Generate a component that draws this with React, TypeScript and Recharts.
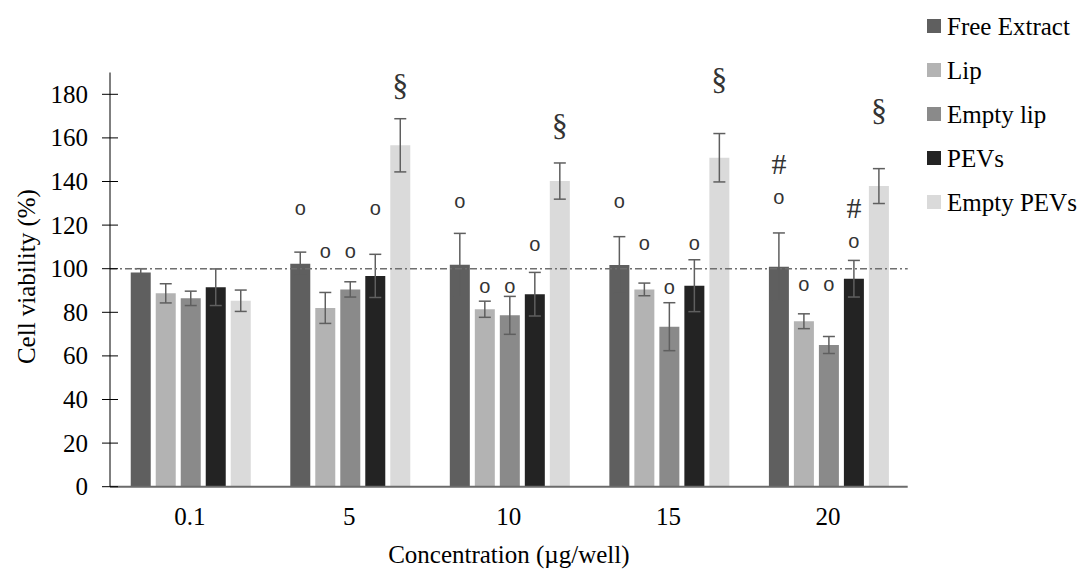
import React from 'react';
import {
  BarChart,
  Bar,
  XAxis,
  YAxis,
  ErrorBar,
  LabelList,
  Legend,
  ReferenceLine,
} from 'recharts';

// values (mean ± SD, % of control)
const categories = ['0.1', '5', '10', '15', '20'];
const seriesNames = ['Free Extract', 'Lip', 'Empty lip', 'PEVs', 'Empty PEVs'];

const freeExtract = [98.3, 102.3, 101.8, 101.7, 100.9];
const freeExtractSd = [1.7, 5.3, 14.4, 13, 15.5];
const lip = [88.7, 82, 81.4, 90.5, 75.9];
const lipSd = [4.4, 7.1, 3.7, 2.9, 3.4];
const emptyLip = [86.4, 90.5, 78.6, 73.4, 65];
const emptyLipSd = [3.3, 3.5, 8.7, 11, 3.9];
const pevs = [91.5, 96.7, 88.3, 92.2, 95.4];
const pevsSd = [8.4, 9.9, 10, 11.9, 8.4];
const emptyPevs = [85.3, 156.6, 140.2, 150.9, 137.9];
const emptyPevsSd = [4.9, 12.2, 8.3, 11.1, 8];

// significance symbols and the value level where each one sits
const freeExtractMarks = ['', 'o', 'o', 'o', '#o'];
const freeExtractMarkAt = [0, 127, 130, 130, 132];
const lipMarks = ['', 'o', 'o', 'o', 'o'];
const lipMarkAt = [0, 107, 91, 110.7, 92];
const emptyLipMarks = ['', 'o', 'o', 'o', 'o'];
const emptyLipMarkAt = [0, 107, 91, 90.8, 92];
const pevsMarks = ['', 'o', 'o', 'o', '#o'];
const pevsMarkAt = [0, 127, 110.4, 110.7, 112];
const emptyPevsMarks = ['', '§', '§', '§', '§'];
const emptyPevsMarkAt = [0, 183, 164.4, 185.8, 171.3];

const yTicks = [0, 20, 40, 60, 80, 100, 120, 140, 160, 180];

const data = categories.map((c, i) => ({
  name: c,
  freeExtract: freeExtract[i],
  freeExtractSd: freeExtractSd[i],
  freeExtractMark: freeExtractMarks[i],
  lip: lip[i],
  lipSd: lipSd[i],
  lipMark: lipMarks[i],
  emptyLip: emptyLip[i],
  emptyLipSd: emptyLipSd[i],
  emptyLipMark: emptyLipMarks[i],
  pevs: pevs[i],
  pevsSd: pevsSd[i],
  pevsMark: pevsMarks[i],
  emptyPevs: emptyPevs[i],
  emptyPevsSd: emptyPevsSd[i],
  emptyPevsMark: emptyPevsMarks[i],
}));

const SERIF = "'Liberation Serif', Tinos, 'Times New Roman', 'DejaVu Serif', serif";
const SANS = "'Liberation Sans', Arial, sans-serif";
const ERR = '#5f5f5f';

const markContent = (values: number[], markAt: number[]) => (props: any) => {
  const { index, value } = props;
  if (!value) return null;
  const vb = props.viewBox ?? props;
  const h = vb.height;
  const base = vb.y + h;
  const cx = vb.x + vb.width / 2;
  const cy = base - (markAt[index] * h) / values[index];
  const chars = String(value).split('');
  return (
    <g>
      {chars.map((ch, i) => {
        const level = chars.length - 1 - i;
        const yy = cy - level * 35;
        if (ch === 'o') {
          return (
            <text key={i} x={cx} y={yy + 5} textAnchor="middle" style={{ fontFamily: SANS }} fontSize={20} fill="#333">
              o
            </text>
          );
        }
        const big = ch === '§';
        return (
          <text key={i} x={cx} y={yy + (big ? 8 : 10)} textAnchor="middle" style={{ fontFamily: SERIF }} fontSize={big ? 32 : 30} fill="#333">
            {ch}
          </text>
        );
      })}
    </g>
  );
};

const YTick = (props: any) => {
  const { x, y, payload } = props;
  return (
    <g>
      <line x1={x + 14} x2={x + 30} y1={y} y2={y} stroke="#000" strokeWidth={1} />
      <text x={x} y={y + 8.5} textAnchor="end" style={{ fontFamily: SERIF }} fontSize={25} fill="#000">
        {payload.value}
      </text>
    </g>
  );
};

const LegendContent = (props: any) => {
  const items = [...(props.payload || [])].sort(
    (a: any, b: any) => seriesNames.indexOf(a.value) - seriesNames.indexOf(b.value)
  );
  return (
    <div style={{ fontFamily: SERIF, fontSize: 25, color: '#000', lineHeight: 1 }}>
      {items.map((entry: any) => (
        <div key={entry.value} style={{ display: 'flex', alignItems: 'center', height: 44 }}>
          <span style={{ width: 14, height: 14, background: entry.color, marginRight: 6, display: 'inline-block', flex: 'none' }} />
          <span style={{ whiteSpace: 'nowrap' }}>{entry.value}</span>
        </div>
      ))}
    </div>
  );
};

export default function App() {
  return (
    <div style={{ position: 'absolute', left: 0, top: 0, width: 1089, height: 570, background: '#fff', fontFamily: SERIF }}>
      <BarChart
        width={1089}
        height={570}
        data={data}
        margin={{ top: 72.5, right: 181.3, bottom: 3.3, left: 40 }}
        barCategoryGap="13%"
        barGap={5}
      >
        <XAxis
          dataKey="name"
          height={80}
          tickLine={false}
          tickSize={0}
          tickMargin={21}
          axisLine={{ stroke: '#6b6b6b', strokeWidth: 2 }}
          tick={{ fill: '#000', fontSize: 25, style: { fontFamily: SERIF } }}
          label={{
            content: (p: any) => {
              const vb = p.viewBox;
              return (
                <text x={vb.x + vb.width / 2} y={vb.y + 76} textAnchor="middle" style={{ fontFamily: SERIF }} fontSize={25} fill="#000">
                  Concentration (µg/well)
                </text>
              );
            },
          }}
        />
        <YAxis
          width={70}
          domain={[0, 190]}
          ticks={yTicks}
          interval={0}
          tickLine={false}
          tickSize={8}
          tickMargin={14}
          axisLine={{ stroke: '#000', strokeWidth: 1 }}
          tick={<YTick />}
          label={{
            content: (p: any) => {
              const vb = p.viewBox;
              const cx = vb.x - 5;
              const cy = vb.y + vb.height / 2 - 3;
              return (
                <text x={cx} y={cy} transform={`rotate(-90, ${cx}, ${cy})`} textAnchor="middle" style={{ fontFamily: SERIF }} fontSize={25} fill="#000">
                  Cell viability (%)
                </text>
              );
            },
          }}
        />
        <Legend
          layout="vertical"
          align="center"
          verticalAlign="middle"
          content={<LegendContent />}
          wrapperStyle={{ left: 927, top: 4, width: 162 }}
        />
        <Bar dataKey="freeExtract" name="Free Extract" fill="#5f5f5f" isAnimationActive={false}>
          <ErrorBar dataKey="freeExtractSd" width={6} stroke={ERR} strokeWidth={1.5} />
          <LabelList dataKey="freeExtractMark" content={markContent(freeExtract, freeExtractMarkAt)} />
        </Bar>
        <Bar dataKey="lip" name="Lip" fill="#b3b3b3" isAnimationActive={false}>
          <ErrorBar dataKey="lipSd" width={6} stroke={ERR} strokeWidth={1.5} />
          <LabelList dataKey="lipMark" content={markContent(lip, lipMarkAt)} />
        </Bar>
        <Bar dataKey="emptyLip" name="Empty lip" fill="#8a8a8a" isAnimationActive={false}>
          <ErrorBar dataKey="emptyLipSd" width={6} stroke={ERR} strokeWidth={1.5} />
          <LabelList dataKey="emptyLipMark" content={markContent(emptyLip, emptyLipMarkAt)} />
        </Bar>
        <Bar dataKey="pevs" name="PEVs" fill="#232323" isAnimationActive={false}>
          <ErrorBar dataKey="pevsSd" width={6} stroke={ERR} strokeWidth={1.5} />
          <LabelList dataKey="pevsMark" content={markContent(pevs, pevsMarkAt)} />
        </Bar>
        <Bar dataKey="emptyPevs" name="Empty PEVs" fill="#dadada" isAnimationActive={false}>
          <ErrorBar dataKey="emptyPevsSd" width={6} stroke={ERR} strokeWidth={1.5} />
          <LabelList dataKey="emptyPevsMark" content={markContent(emptyPevs, emptyPevsMarkAt)} />
        </Bar>
        <ReferenceLine y={100} stroke="#6f6f6f" strokeWidth={1.5} strokeDasharray="7 3 2 3" />
      </BarChart>
    </div>
  );
}
